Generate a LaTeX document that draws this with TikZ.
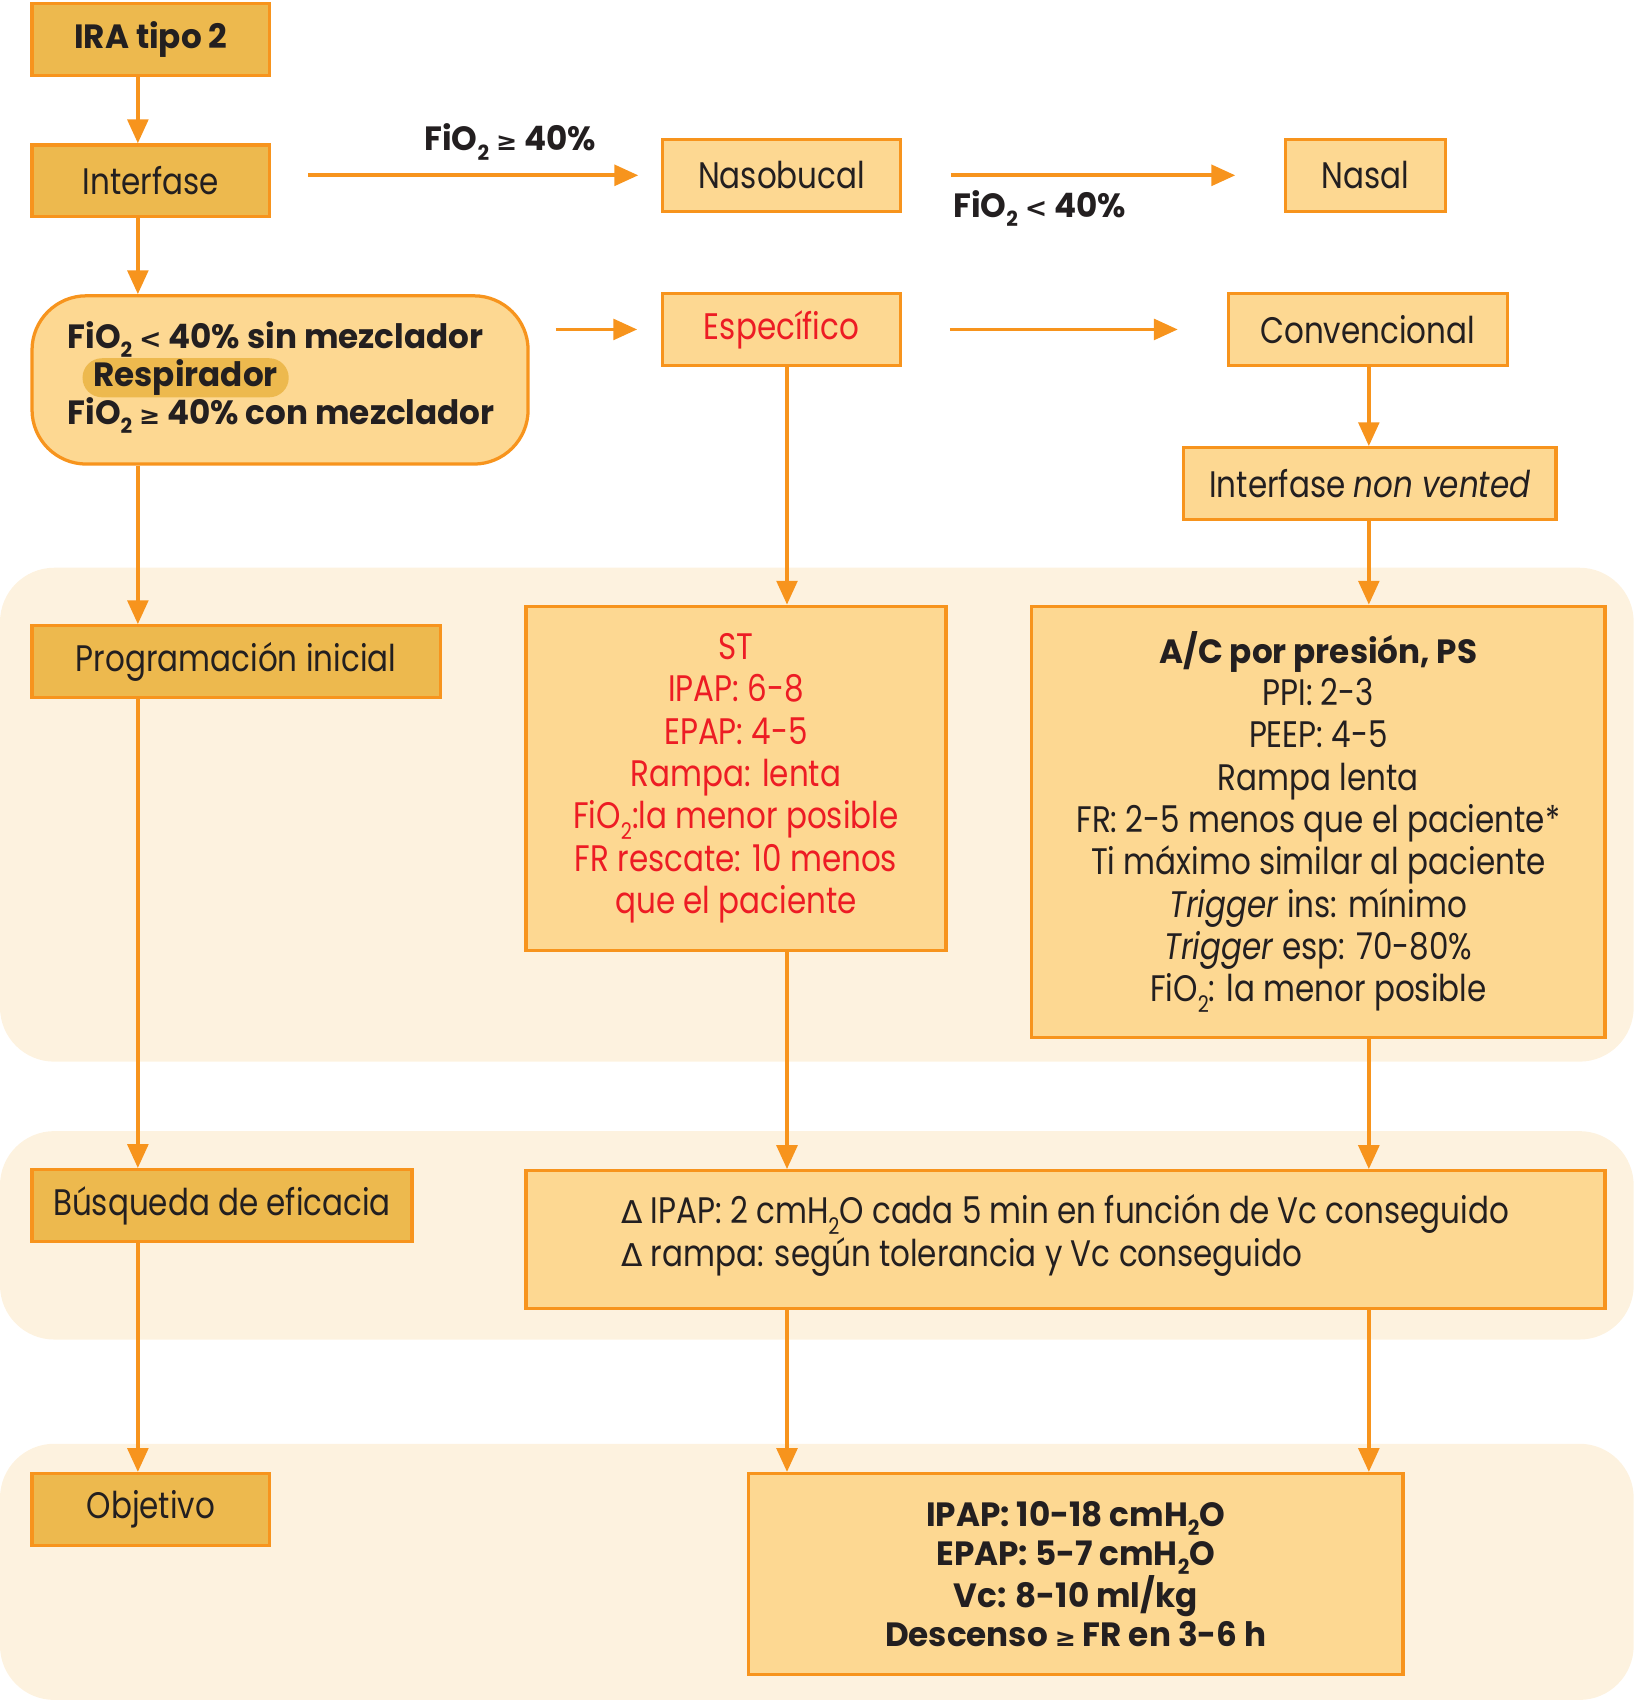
\documentclass[tikz,border=0pt]{standalone}
\usepackage{fontspec}
\setmainfont{Poppins}[FakeStretch=0.84]
\newfontfamily\grueso{Poppins}[FakeStretch=0.97]
\newfontfamily\sym{DejaVu Sans}
\usetikzlibrary{arrows.meta}
\definecolor{borde}{HTML}{F7941D}
\definecolor{oscuro}{HTML}{EDB94E}
\definecolor{claro}{HTML}{FDD892}
\definecolor{banda}{HTML}{FDF2DF}
\definecolor{rojo}{HTML}{ED1C24}
\definecolor{texto}{HTML}{231F20}
\newcommand\myfs[2]{\fontsize{#1}{#2}\selectfont}
\newcommand\dos{\raisebox{-0.28em}{\scalebox{0.62}{2}}}
\newcommand\mayor{{\sym\scalebox{0.75}{≥}}}
\newcommand\menor{{\sym\bfseries\scalebox{0.8}{<}}}
\newcommand\dlt{{\sym\scalebox{0.85}{Δ}}}
\tikzset{
  caja/.style={draw=borde, line width=3pt, inner sep=0pt, anchor=north west, text=texto, font=\myfs{34}{39}, align=center},
  oscura/.style={caja, fill=oscuro},
  clara/.style={caja, fill=claro},
  negrita/.style={inner sep=0pt, text=texto, font=\grueso\bfseries\myfs{31}{35}},
  pill/.style={fill=oscuro, rounded corners=18pt, minimum width=190pt, minimum height=36pt, inner sep=0pt, text=texto, font=\grueso\bfseries\myfs{31}{35}},
  flecha/.style={draw=borde, line width=3.5pt, -{Triangle[length=22pt,width=19pt]}},
}
\begin{document}
\begin{tikzpicture}[x=1pt,y=-1pt]
\useasboundingbox (0,0) rectangle (1505,1567);
% bands
\fill[banda, rounded corners=50pt] (0,523) rectangle (1505,978);
\fill[banda, rounded corners=50pt] (0,1042) rectangle (1505,1234);
\fill[banda, rounded corners=50pt] (0,1330) rectangle (1505,1566);
% column coordinates
\coordinate (c1) at (127,0);
\coordinate (c2) at (725,0);
\coordinate (c3) at (1261,0);
% nodes
\node[oscura, minimum width=219pt, minimum height=66pt, font=\grueso\bfseries\myfs{31}{35}] (ira) at (28,2) {IRA tipo 2};
\node[oscura, minimum width=219pt, minimum height=66pt] (interfase) at (28,132) {Interfase};
\node[clara, rounded corners=50pt, minimum width=457pt, minimum height=155pt] (mezcla) at (28,271) {};
\node[negrita, anchor=west] (l1) at (62,313) {FiO\dos{} \menor{} 40\% sin mezclador};
\node[pill] (resp) at (171,348) {Respirador};
\node[negrita, anchor=west] (l3) at (62,383) {FiO\dos{} \mayor{} 40\% con mezclador};
\node[clara, minimum width=219pt, minimum height=66pt] (naso) at (609,127) {Nasobucal};
\node[clara, minimum width=147pt, minimum height=66pt] (nasal) at (1183,127) {Nasal};
\node[clara, minimum width=219pt, minimum height=66pt, text=rojo] (esp) at (609,269) {Específico};
\node[clara, minimum width=257pt, minimum height=66pt] (conv) at (1130,269) {Convencional};
\node[clara, minimum width=343pt, minimum height=66pt] (nv) at (1089,411) {Interfase \textit{non vented}};
\node[oscura, minimum width=376pt, minimum height=66pt] (prog) at (28,575) {Programación inicial};
\node[clara, minimum width=387pt, minimum height=317pt, text=rojo] (st) at (483,557) {ST\\IPAP: 6-8\\EPAP: 4-5\\Rampa: lenta\\FiO\dos:la menor posible\\FR rescate: 10 menos\\que el paciente};
\node[clara, minimum width=528pt, minimum height=397pt] (ac) at (949,557) {{\grueso\bfseries\myfs{31}{39}A/C por presión, PS}\\PPI: 2-3\\PEEP: 4-5\\Rampa lenta\\FR: 2-5 menos que el paciente*\\Ti máximo similar al paciente\\\textit{Trigger} ins: mínimo\\\textit{Trigger} esp: 70-80\%\\FiO\dos: la menor posible};
\node[oscura, minimum width=350pt, minimum height=66pt] (busq) at (28,1076) {Búsqueda de eficacia};
\node[clara, minimum width=994pt, minimum height=127pt] (delta) at (483,1077) {};
\node[inner sep=0pt, anchor=west, align=left, text=texto, font=\myfs{34}{39}] (deltatxt) at (572,1138) {\dlt{} IPAP: 2 cmH\dos O cada 5 min en función de Vc conseguido\\\dlt{} rampa: según tolerancia y Vc conseguido};
\node[oscura, minimum width=219pt, minimum height=66pt] (obj) at (28,1356) {Objetivo};
\node[clara, minimum width=603pt, minimum height=185pt, font=\grueso\bfseries\myfs{31}{36}] (fin) at (688,1356) {IPAP: 10-18 cmH\dos O\\EPAP: 5-7 cmH\dos O\\Vc: 8-10 ml/kg\\Descenso \mayor{} FR en 3-6 h};
% labels
\node[negrita] (lab1) at (470,131) {FiO\dos{} \mayor{} 40\%};
\node[negrita, anchor=west] (lab2) at (878,192) {FiO\dos{} \menor{} 40\%};
% arrows left column
\draw[flecha] (ira.south -| c1) -- (interfase.north -| c1);
\draw[flecha] (interfase.south -| c1) -- (mezcla.north -| c1);
\draw[flecha] (mezcla.south -| c1) -- (prog.north -| c1);
\draw[flecha] (prog.south -| c1) -- (busq.north -| c1);
\draw[flecha] (busq.south -| c1) -- (obj.north -| c1);
% horizontal arrows
\draw[flecha, shorten <=34pt, shorten >=21pt] (interfase.east |- naso.west) -- (naso.west);
\draw[flecha, shorten <=45pt, shorten >=45pt] (naso.east) -- (nasal.west);
\draw[flecha, shorten <=24pt, shorten >=22pt] (mezcla.east |- esp.west) -- (esp.west);
\draw[flecha, shorten <=44pt, shorten >=45pt] (esp.east) -- (conv.west);
% middle column
\draw[flecha] (esp.south -| c2) -- (st.north -| c2);
\draw[flecha] (st.south -| c2) -- (delta.north -| c2);
\draw[flecha] (delta.south -| c2) -- (fin.north -| c2);
% right column
\draw[flecha] (conv.south -| c3) -- (nv.north -| c3);
\draw[flecha] (nv.south -| c3) -- (ac.north -| c3);
\draw[flecha] (ac.south -| c3) -- (delta.north -| c3);
\draw[flecha] (delta.south -| c3) -- (fin.north -| c3);
\end{tikzpicture}
\end{document}
